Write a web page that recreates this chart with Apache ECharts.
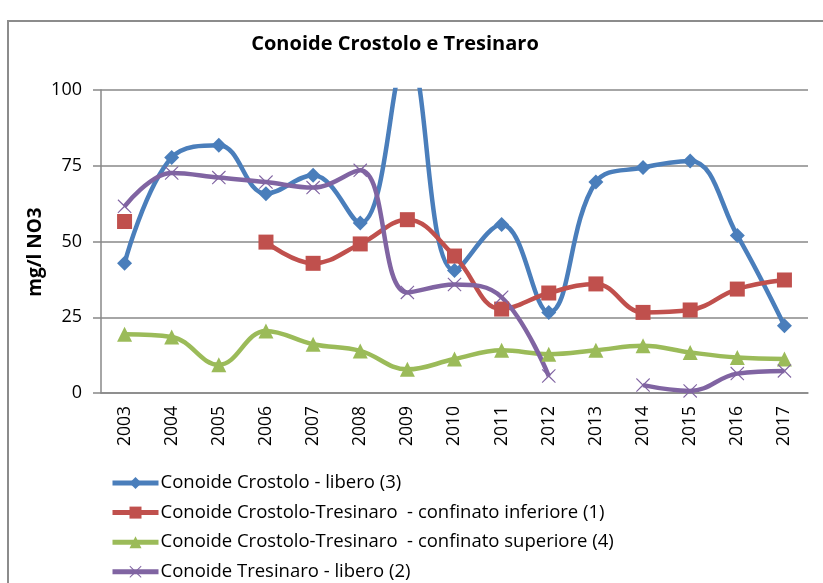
<!DOCTYPE html>
<html>
<head>
<meta charset="utf-8">
<script src="https://cdn.jsdelivr.net/npm/echarts@6/dist/echarts.min.js"></script>
<style>html,body{margin:0;padding:0;background:#fff}#c{width:823px;height:583px}</style>
</head>
<body>
<div id="c"></div>
<script>
const years = ['2003','2004','2005','2006','2007','2008','2009','2010','2011','2012','2013','2014','2015','2016','2017'];
const crostoloLibero = [42.8, 77.7, 81.8, 65.8, 71.9, 56.1, 112, 40.4, 55.6, 26.6, 69.6, 74.4, 76.6, 52, 22.2];
const confinatoInferiore = [56.6, null, null, 49.8, 42.8, 49.2, 57.2, 45.2, 27.7, 33, 36, 26.6, 27.4, 34.3, 37.3];
const confinatoSuperiore = [19.4, 18.5, 9.3, 20.5, 16.1, 13.9, 7.8, 11.2, 14.1, 12.8, 14.1, 15.6, 13.4, 11.7, 11.2];
const tresinaroLibero = [61.6, 72.6, 71.1, 69.6, 67.8, 73.5, 33.2, 35.8, 31.6, 5.6, null, 2.6, 0.7, 6.4, 7.3];
const seriesNames = [
  'Conoide Crostolo - libero (3)',
  'Conoide Crostolo-Tresinaro  - confinato inferiore (1)',
  'Conoide Crostolo-Tresinaro  - confinato superiore (4)',
  'Conoide Tresinaro - libero (2)'
];
const yTicks = [0, 25, 50, 75, 100];

const FONT = '"Open Sans", "Liberation Sans", sans-serif';
const xPath = 'path://M1,0 L10,8.6 L19,0 L20,1.2 L11.4,10 L20,18.8 L19,20 L10,11.4 L1,20 L0,18.8 L8.6,10 L0,1.2 Z';

function mk(name, data, color, symbol, size) {
  return {
    name: name, type: 'line', data: data, smooth: 0.4, connectNulls: false,
    symbol: symbol, symbolSize: size, showAllSymbol: true, clip: true,
    lineStyle: {color: color, width: 4.5},
    itemStyle: {color: color},
    emphasis: {disabled: true}
  };
}

const chart = echarts.init(document.getElementById('c'), null, {renderer: 'canvas'});
chart.setOption({
  animation: false,
  backgroundColor: '#fff',
  title: {
    text: 'Conoide Crostolo e Tresinaro', left: 390, top: 29, textAlign: 'center',
    textStyle: {fontFamily: FONT, fontSize: 20, fontWeight: 'bold', color: '#000'}
  },
  graphic: [
    {type: 'rect', shape: {x: 8, y: 21, width: 830, height: 600}, style: {fill: null, stroke: '#8c8c8c', lineWidth: 2}, silent: true, z: -10},
    {type: 'text', x: 36, y: 252, rotation: Math.PI / 2,
     style: {text: 'mg/l NO3', fontFamily: FONT, fontSize: 19, fontWeight: 'bold', fill: '#000', align: 'center', verticalAlign: 'middle'}}
  ],
  legend: {
    orient: 'vertical', left: 105, top: 468, height: 140, itemWidth: 46, itemHeight: 15, itemGap: 9.6,
    lineStyle: {width: 5},
    textStyle: {fontFamily: FONT, fontSize: 18.5, color: '#000', lineHeight: 20, padding: [0, 0, 0, -3]},
    data: seriesNames
  },
  grid: {left: 101, right: 15, top: 90, bottom: 190, containLabel: false},
  xAxis: {
    type: 'category', data: years, boundaryGap: true,
    axisLine: {lineStyle: {color: '#888', width: 1.5}},
    axisTick: {alignWithLabel: false, length: 6, lineStyle: {color: '#888', width: 1.5}},
    axisLabel: {rotate: 90, fontFamily: FONT, fontSize: 17.5, color: '#000', margin: 13, interval: 0}
  },
  yAxis: {
    type: 'value', min: yTicks[0], max: yTicks[yTicks.length - 1], interval: 25,
    axisLine: {show: true, lineStyle: {color: '#888', width: 1.5}},
    axisTick: {show: true, length: 8, lineStyle: {color: '#888', width: 1.5}},
    splitLine: {lineStyle: {color: '#888', width: 1.5}},
    axisLabel: {fontFamily: FONT, fontSize: 18, color: '#000', margin: 19}
  },
  series: [
    mk(seriesNames[0], crostoloLibero, '#4A7EBB', 'diamond', 15),
    mk(seriesNames[1], confinatoInferiore, '#C0504D', 'rect', 15),
    mk(seriesNames[2], confinatoSuperiore, '#9BBB59', 'triangle', 15),
    mk(seriesNames[3], tresinaroLibero, '#8064A2', xPath, 14)
  ]
});
</script>
</body>
</html>
